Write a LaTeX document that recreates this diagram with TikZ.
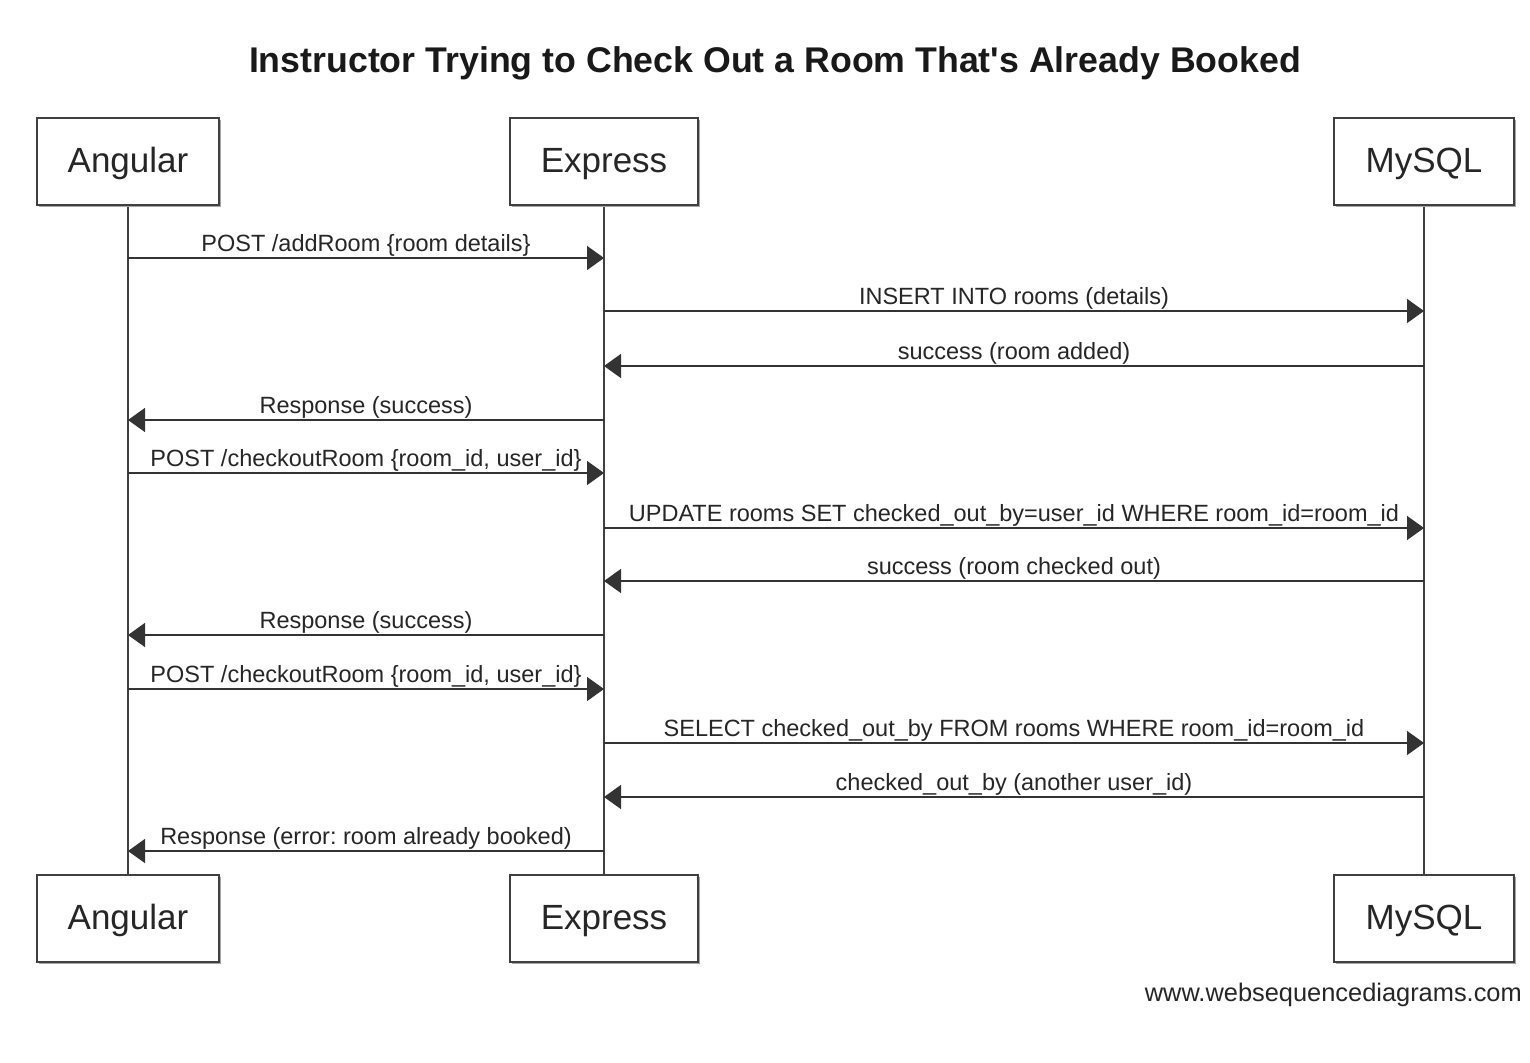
\documentclass[tikz,border=0pt]{standalone}
\usepackage{fontspec}
\setmainfont{Liberation Sans}
\usetikzlibrary{arrows.meta,shadows}
\frenchspacing
\begin{document}
\begin{tikzpicture}[x=1pt,y=-1pt,
  actor/.style={draw=black!75, line width=1.5pt, fill=white, minimum height=87pt, inner sep=0pt,
    text height=26pt, text depth=5pt,
    font=\fontsize{35}{40}\selectfont, text=black!85,
    drop shadow={shadow xshift=2pt, shadow yshift=-2pt, fill=black!35, opacity=1}},
  life/.style={draw=black!75, line width=1.5pt},
  msg/.style={draw=black!80, line width=1.5pt, -{Triangle[length=17pt,width=24pt]}},
  lbl/.style={midway, above, inner sep=1pt, font=\fontsize{23.5}{26}\selectfont, text=black!85}]
\useasboundingbox (0,0) rectangle (1530,1062);
\fill[white] (0,0) rectangle (1530,1062);
\node[font=\bfseries\fontsize{35.7}{40}\selectfont, text=black!90] (title) at (775,63) {Instructor Trying to Check Out a Room That\textquotesingle s Already Booked};
% lifelines
\coordinate (at) at (128,205); \coordinate (ab) at (128,875);
\coordinate (et) at (604,205); \coordinate (eb) at (604,875);
\coordinate (mt) at (1424,205); \coordinate (mb) at (1424,875);
\draw[life] (at) -- (ab);
\draw[life] (et) -- (eb);
\draw[life] (mt) -- (mb);
\node[actor, minimum width=182pt] (A1) at (128,161.5) {Angular};
\node[actor, minimum width=188pt] (E1) at (604,161.5) {Express};
\node[actor, minimum width=180pt] (M1) at (1424,161.5) {MySQL};
\node[actor, minimum width=182pt] (A2) at (128,918.5) {Angular};
\node[actor, minimum width=188pt] (E2) at (604,918.5) {Express};
\node[actor, minimum width=180pt] (M2) at (1424,918.5) {MySQL};
% message anchor points
\foreach \i/\y in {1/258,2/311,3/366,4/420,5/473,6/528,7/581,8/635,9/689,10/743,11/797,12/851}{
  \coordinate (a\i) at (128,\y);
  \coordinate (e\i) at (604,\y);
  \coordinate (m\i) at (1424,\y);
}
\draw[msg] (a1) -- (e1) node[lbl]{POST /addRoom \{room details\}};
\draw[msg] (e2) -- (m2) node[lbl]{INSERT INTO rooms (details)};
\draw[msg] (m3) -- (e3) node[lbl]{success (room added)};
\draw[msg] (e4) -- (a4) node[lbl]{Response (success)};
\draw[msg] (a5) -- (e5) node[lbl]{POST /checkoutRoom \{room\_id, user\_id\}};
\draw[msg] (e6) -- (m6) node[lbl]{UPDATE rooms SET checked\_out\_by=user\_id WHERE room\_id=room\_id};
\draw[msg] (m7) -- (e7) node[lbl]{success (room checked out)};
\draw[msg] (e8) -- (a8) node[lbl]{Response (success)};
\draw[msg] (a9) -- (e9) node[lbl]{POST /checkoutRoom \{room\_id, user\_id\}};
\draw[msg] (e10) -- (m10) node[lbl]{SELECT checked\_out\_by FROM rooms WHERE room\_id=room\_id};
\draw[msg] (m11) -- (e11) node[lbl]{checked\_out\_by (another user\_id)};
\draw[msg] (e12) -- (a12) node[lbl]{Response (error: room already booked)};
\node[anchor=east, inner sep=0pt, font=\fontsize{25.4}{28}\selectfont, text=black!85] (footer) at (1522,995) {www.websequencediagrams.com};
\end{tikzpicture}
\end{document}
